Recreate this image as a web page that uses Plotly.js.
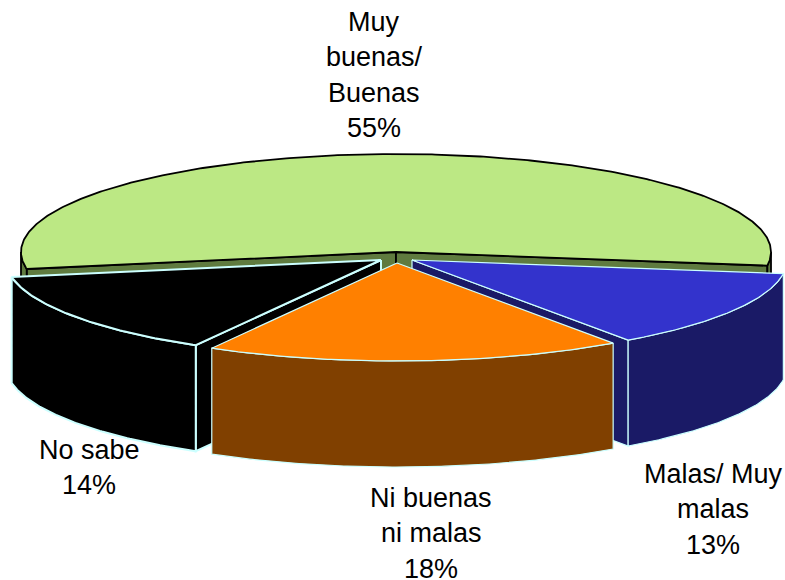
<!DOCTYPE html>
<html>
<head>
<meta charset="utf-8">
<script src="https://cdn.plot.ly/plotly-3.0.1.min.js"></script>
<style>html,body{margin:0;padding:0;background:#fff}#chart{width:785px;height:580px}</style>
</head>
<body>
<div id="chart"></div>
<script>
// Data, in drawing order round the pie (clockwise from the right-hand side)
var categories = ["Malas/ Muy malas", "Ni buenas ni malas", "No sabe", "Muy buenas/ Buenas"];
var values = [13, 18, 14, 55];
var labelLines = [
  ["Malas/ Muy", "malas", "13%"],
  ["Ni buenas", "ni malas", "18%"],
  ["No sabe", "14%"],
  ["Muy", "buenas/", "Buenas", "55%"]
];

// Styles and geometry of the tilted pie
var topColors = ["#3333cc", "#ff8000", "#000000", "#bce884"];
var sideColors = ["#1a1a66", "#804000", "#000000", "#5f7b3f"];
var edgeColors = ["#ccffff", "#ccffff", "#ccffff", "#000000"];
var edgeWidths = [1.2, 1.2, 2, 1.8];
var explodeX = [16, 1, -15, 0];
var explodeY = [8, 11, 8, 0];
var labelX = [713, 431, 89, 374];
var labelY = [474, 498, 450, 22];
var lineGap = 35.4;
var cx = 396, cy = 252, rx = 375, ry = 98, depth = 106, startAngle = 8;

function rim(deg, i) {
  var t = deg * Math.PI / 180;
  return [cx + explodeX[i] + rx * Math.cos(t), cy + explodeY[i] + ry * Math.sin(t)];
}
function arc(a, b, i) {
  var pts = [], n = Math.max(2, Math.ceil(Math.abs(b - a) * 2));
  for (var k = 0; k <= n; k++) pts.push(rim(a + (b - a) * k / n, i));
  return pts;
}
function drop(pts) { return pts.map(function (p) { return [p[0], p[1] + depth]; }); }
function shape(pts, fill, line, width) {
  return {
    type: "scatter", mode: "lines", fill: "toself", fillcolor: fill,
    x: pts.map(function (p) { return p[0]; }).concat([pts[0][0]]),
    y: pts.map(function (p) { return p[1]; }).concat([pts[0][1]]),
    line: { color: line, width: width, shape: "linear" },
    hoverinfo: "skip", showlegend: false
  };
}

// angular spans from the values
var spans = [], acc = startAngle;
values.forEach(function (v) { spans.push([acc, acc + v * 3.6]); acc += v * 3.6; });

function sliceTraces(i) {
  var a = spans[i][0], b = spans[i][1], out = [];
  var apex = [cx + explodeX[i], cy + explodeY[i]];
  var fill = sideColors[i], e = edgeColors[i], w = edgeWidths[i];
  function wall(d) {
    var c = rim(d, i);
    out.push(shape([apex, c, [c[0], c[1] + depth], [apex[0], apex[1] + depth]], fill, e, w));
  }
  // radial walls, only those facing the viewer
  if (Math.cos(a * Math.PI / 180) < 0) wall(a);
  if (Math.cos(b * Math.PI / 180) > 0) wall(b);
  // outer wall: only the part facing the viewer (sin > 0)
  var ranges = [];
  if (a < 180) ranges.push([a, Math.min(b, 180)]);
  if (b > 360) ranges.push([360, b]);
  ranges.forEach(function (r) {
    var front = arc(r[0], r[1], i);
    out.push(shape(front.concat(drop(front).reverse()), fill, e, w));
  });
  // top face
  out.push(shape([apex].concat(arc(a, b, i)), topColors[i], e, w));
  return out;
}

var traces = [];
[3, 2, 0, 1].forEach(function (i) { traces = traces.concat(sliceTraces(i)); });

var annotations = [];
labelLines.forEach(function (lines, i) {
  lines.forEach(function (txt, j) {
    annotations.push({
      x: labelX[i], y: labelY[i] + j * lineGap, xref: "x", yref: "y",
      text: txt, showarrow: false, xanchor: "center", yanchor: "middle",
      font: { family: "Liberation Sans, Arial, sans-serif", size: 27, color: "#000000" }
    });
  });
});

Plotly.newPlot("chart", traces, {
  width: 785, height: 580,
  margin: { l: 0, r: 0, t: 0, b: 0 },
  paper_bgcolor: "#ffffff", plot_bgcolor: "#ffffff",
  xaxis: { range: [0, 785], visible: false, fixedrange: true },
  yaxis: { range: [580, 0], visible: false, fixedrange: true },
  showlegend: false, hovermode: false,
  annotations: annotations
}, { displayModeBar: false, staticPlot: true });
</script>
</body>
</html>
